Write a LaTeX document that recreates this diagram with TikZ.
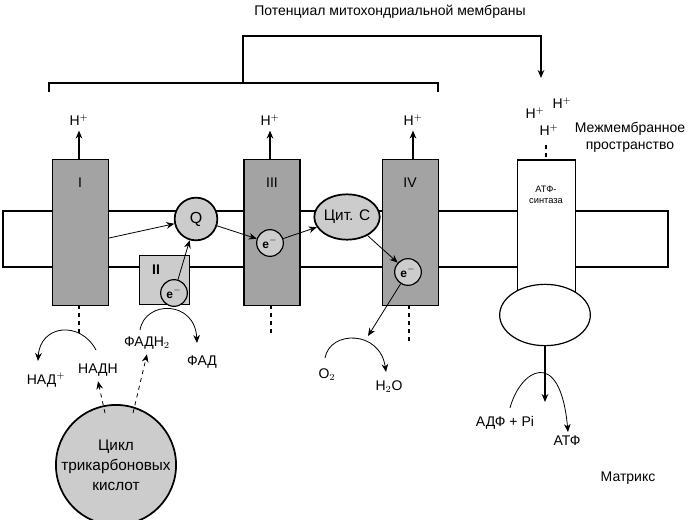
\documentclass[tikz,border=0pt]{standalone}
\usepackage{fontspec}
\setmainfont{Liberation Sans}
\definecolor{DarkGrey}{HTML}{A3A3A3}
\definecolor{LightGrey}{HTML}{CCCCCC}
\usetikzlibrary{arrows.meta,shapes.geometric}
\begin{document}
\begin{tikzpicture}[x=0.75pt,y=-0.75pt,font=\fontsize{10.5}{12.5}\selectfont,line width=0.9pt,
  >={Stealth[length=6pt,width=5pt]},
  cplx/.style={draw,fill=DarkGrey,minimum width=42pt,minimum height=109pt},
  elec/.style={circle,draw,fill=LightGrey,inner sep=0pt,minimum size=20pt,font=\small\bfseries},
  thin/.style={line width=0.6pt}]
  \useasboundingbox (0,0) rectangle (695,520);

  % membrane
  \draw[fill=white] (3,211) rectangle (668,267);

  % complexes
  \node[cplx] (I) at (80.5,232.5) {};
  \node[cplx] (III) at (272,232.5) {};
  \node[cplx] (IV) at (410.5,232.5) {};
  \node[draw,fill=LightGrey,minimum width=38pt,minimum height=37pt] (II) at (164.5,280) {};
  \node at (80,183) {I};
  \node at (272,183) {III};
  \node at (410,183) {IV};
  \node[font=\fontsize{10.5}{12}\selectfont\bfseries] at (156,270) {II};

  % ATP synthase
  \node[draw,fill=white,minimum width=43pt,minimum height=105pt] (ATPs) at (546.5,230) {};
  \node[font=\scriptsize,align=center] at (546,195) {АТФ-\\синтаза};
  \node[draw,ellipse,fill=white,minimum width=68pt,minimum height=46pt] (F1) at (545,315) {};

  % carriers
  \node[circle,draw,line width=1.3pt,fill=LightGrey,minimum size=32pt,inner sep=0pt,font=\large] (Q) at (196,219) {Q};
  \node[ellipse,draw,line width=1.3pt,fill=LightGrey,minimum width=43pt,minimum height=34pt,inner sep=0pt,font=\fontsize{11.5}{13}\selectfont] (CytC) at (347,217) {Цит. С};
  \node[elec] (e2) at (174,293) {e$^-$};
  \node[elec] (e3) at (270,243) {e$^-$};
  \node[elec] (e4) at (408,272) {e$^-$};

  % electron path
  \draw[->,thin] (I.east |- 0,238) -- (Q);
  \draw[->,thin] (e2) -- (Q);
  \draw[->,thin] (Q) -- (e3);
  \draw[->,thin] (e3) -- (CytC);
  \draw[->,thin] (CytC) -- (e4);
  \coordinate (o2top) at (368,336);
  \draw[->,thin] (e4) -- (o2top);

  % protons
  \foreach \c/\x in {I/79,III/270,IV/413}{
    \node (H\c) at (\x,120) {H$^{+}$};
    \draw[->] (\x,160) -- (H\c.south);
  }
  \node (Ha) at (535,113) {H$^{+}$};
  \node (Hb) at (562,103) {H$^{+}$};
  \node (Hc) at (549,130) {H$^{+}$};
  \draw[dashed] (546,145) -- (ATPs.north -| 546,0);

  % potential bracket
  \node (pot) at (390,12) {Потенциал митохондриальной мембраны};
  \draw (49,92) -- (49,83) -- (438,83) -- (438,92);
  \draw[->] (243,83) -- (243,36) -- (541,36) -- (541,78);

  % dashed stubs
  \draw[dashed] (79,305) -- (79,335);
  \draw[dashed] (271,305) -- (271,335);
  \draw[dashed] (409,305) -- (409,343);

  % NADH
  \node (NADp) at (46,380) {НАД$^{+}$};
  \node (NADH) at (98,370) {НАДН};
  \draw[->,thin] (96,350) .. controls (80,320) and (40,325) .. (38,361);
  \node (FADH) at (147,343) {ФАДН$_2$};
  \node (FAD) at (202,362) {ФАД};
  \draw[->,thin] (140,330) .. controls (145,300) and (195,300) .. (197,343);

  % TCA cycle
  \node[circle,draw,line width=1.3pt,fill=LightGrey,minimum size=82pt,align=center,inner sep=0pt,font=\fontsize{11.5}{15}\selectfont] (TCA) at (116,465) {Цикл\\трикарбоновых\\кислот};
  \draw[->,dashed,thin] (105,413) -- (NADH.south);
  \draw[->,dashed,thin] (133,413) -- (FADH.south);

  % oxygen
  \node (O2) at (327,375) {O$_2$};
  \node (H2O) at (389,387) {H$_2$O};
  \draw[->,thin] (325,358) .. controls (330,330) and (380,330) .. (386,372);

  % ATP synthesis
  \draw[->] (F1.south) -- (545,402);
  \node (ADP) at (505,423) {АДФ + Pi};
  \node (ATP) at (567,441) {АТФ};
  \draw[->,thin] (510,408) .. controls (520,370) and (560,345) .. (568,432);

  % compartments
  \node[align=center] (inter) at (630,137) {Межмембранное\\пространство};
  \node (matrix) at (628,478) {Матрикс};
\end{tikzpicture}
\end{document}
